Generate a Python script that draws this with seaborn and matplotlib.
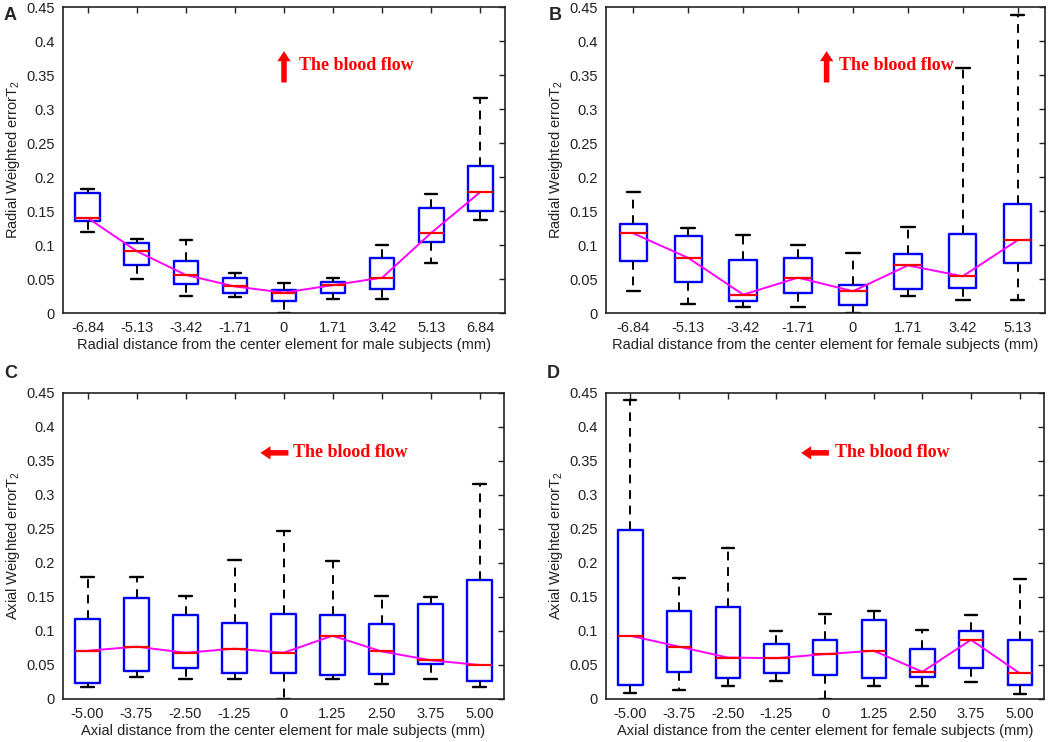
import numpy as np
import pandas as pd
import matplotlib
matplotlib.use("Agg")
import matplotlib.pyplot as plt
import seaborn as sns

# five-number summaries per position: [low whisker, q1, median, q3, high whisker]
radial_labels_male = ["-6.84", "-5.13", "-3.42", "-1.71", "0", "1.71", "3.42", "5.13", "6.84"]
radial_labels_female = ["-6.84", "-5.13", "-3.42", "-1.71", "0", "1.71", "3.42", "5.13"]
axial_labels = ["-5.00", "-3.75", "-2.50", "-1.25", "0", "1.25", "2.50", "3.75", "5.00"]

radial_male = [
    [0.119, 0.136, 0.140, 0.176, 0.182],
    [0.050, 0.070, 0.091, 0.103, 0.109],
    [0.025, 0.043, 0.056, 0.076, 0.108],
    [0.023, 0.029, 0.039, 0.051, 0.059],
    [0.000, 0.017, 0.030, 0.034, 0.044],
    [0.021, 0.029, 0.041, 0.045, 0.052],
    [0.021, 0.036, 0.052, 0.081, 0.100],
    [0.074, 0.105, 0.118, 0.154, 0.175],
    [0.137, 0.150, 0.178, 0.216, 0.316],
]
radial_female = [
    [0.032, 0.076, 0.117, 0.131, 0.178],
    [0.013, 0.045, 0.081, 0.113, 0.125],
    [0.009, 0.017, 0.027, 0.078, 0.115],
    [0.009, 0.029, 0.052, 0.081, 0.100],
    [0.000, 0.012, 0.032, 0.041, 0.088],
    [0.025, 0.035, 0.070, 0.087, 0.127],
    [0.019, 0.037, 0.054, 0.116, 0.360],
    [0.019, 0.074, 0.107, 0.160, 0.438],
]
axial_male = [
    [0.018, 0.024, 0.071, 0.118, 0.179],
    [0.033, 0.041, 0.077, 0.149, 0.179],
    [0.029, 0.045, 0.068, 0.123, 0.151],
    [0.030, 0.038, 0.074, 0.112, 0.205],
    [0.000, 0.038, 0.068, 0.125, 0.247],
    [0.030, 0.036, 0.093, 0.124, 0.203],
    [0.022, 0.037, 0.070, 0.111, 0.152],
    [0.030, 0.051, 0.057, 0.140, 0.150],
    [0.017, 0.027, 0.050, 0.175, 0.316],
]
axial_female = [
    [0.009, 0.020, 0.093, 0.248, 0.439],
    [0.013, 0.039, 0.077, 0.130, 0.178],
    [0.019, 0.031, 0.061, 0.136, 0.222],
    [0.027, 0.038, 0.060, 0.081, 0.100],
    [0.000, 0.035, 0.066, 0.087, 0.125],
    [0.019, 0.031, 0.071, 0.116, 0.130],
    [0.019, 0.033, 0.040, 0.073, 0.101],
    [0.025, 0.046, 0.087, 0.100, 0.123],
    [0.008, 0.020, 0.038, 0.087, 0.177],
]

sns.set_theme(style="white")
plt.rcParams["font.family"] = ["Liberation Sans", "DejaVu Sans"]
plt.rcParams["mathtext.fontset"] = "custom"
plt.rcParams["mathtext.rm"] = "Liberation Sans"
plt.rcParams["mathtext.it"] = "Liberation Sans"

W, H = 1059, 742
fig = plt.figure(figsize=(W / 100, H / 100), dpi=100)


def px_axes(left, top, right, bottom):
    return fig.add_axes([left / W, 1 - bottom / H, (right - left) / W, (bottom - top) / H])


panels = [
    ("A", px_axes(63, 7, 505, 313), radial_male, radial_labels_male,
     "Radial distance from the center element for male subjects (mm)", "Radial Weighted errorT$_2$",
     "up", 4.0, 4.3),
    ("B", px_axes(606, 7, 1045, 313), radial_female, radial_labels_female,
     "Radial distance from the center element for female subjects (mm)", "Radial Weighted errorT$_2$",
     "up", 3.52, 3.75),
    ("C", px_axes(63, 393, 504, 699), axial_male, axial_labels,
     "Axial distance from the center element for male subjects (mm)", "Axial Weighted errorT$_2$",
     "left", 4.1, 4.2),
    ("D", px_axes(606, 393, 1044, 699), axial_female, axial_labels,
     "Axial distance from the center element for female subjects (mm)", "Axial Weighted errorT$_2$",
     "left", 4.08, 4.2),
]

yticks = [0, 0.05, 0.1, 0.15, 0.2, 0.25, 0.3, 0.35, 0.4, 0.45]
ytick_labels = ["0", "0.05", "0.1", "0.15", "0.2", "0.25", "0.3", "0.35", "0.4", "0.45"]

for letter, ax, stats, labels, xlabel, ylabel, arrow, ax_x, tx_x in panels:
    df = pd.DataFrame(
        [(lab, v) for lab, row in zip(labels, stats) for v in row],
        columns=["pos", "err"],
    )
    sns.boxplot(
        data=df, x="pos", y="err", order=labels, ax=ax,
        whis=(0, 100), fill=False, width=0.5, color="#0000ff", saturation=1,
        linewidth=1.6,
        boxprops=dict(color="#0000ff", linewidth=1.7),
        medianprops=dict(color="red", linewidth=1.6),
        whiskerprops=dict(color="black", linestyle=(0, (4.5, 3.5)), linewidth=1.4),
        capprops=dict(color="black", linewidth=1.7),
        showfliers=False,
    )
    medians = [row[2] for row in stats]
    sns.lineplot(x=np.arange(len(labels)), y=medians, color="magenta", linewidth=1.4, ax=ax)

    ax.set_xlim(-0.5, len(labels) - 0.5)
    ax.set_ylim(0, 0.45)
    ax.set_yticks(yticks)
    ax.set_yticklabels(ytick_labels)
    ax.tick_params(direction="in", top=True, right=True, length=4, width=1,
                   labelsize=10.5, colors="#222222", pad=6)
    for s in ax.spines.values():
        s.set_visible(True)
        s.set_color("#222222")
        s.set_linewidth(1.2)
    ax.set_xlabel(xlabel, fontsize=10.5, color="#222222", labelpad=2)
    ax.set_ylabel(ylabel, fontsize=10.5, color="#222222", labelpad=3)

    # blood flow direction
    arrow_kw = dict(arrowstyle="simple,head_width=0.8,head_length=0.6,tail_width=0.33",
                    color="red", lw=0, shrinkA=0, shrinkB=0)
    if arrow == "up":
        ax.annotate("", xy=(ax_x, 0.385), xytext=(ax_x, 0.339), arrowprops=arrow_kw)
        ax.text(tx_x, 0.364, "The blood flow", color="red", fontsize=13, fontweight="bold",
                family="Liberation Serif", va="center", ha="left")
    else:
        ax.annotate("", xy=(ax_x - 0.57, 0.362), xytext=(ax_x, 0.362), arrowprops=arrow_kw)
        ax.text(tx_x, 0.362, "The blood flow", color="red", fontsize=13, fontweight="bold",
                family="Liberation Serif", va="center", ha="left")

fig.text(4 / W, 1 - 16 / H, "A", fontsize=13, fontweight="bold", va="center", ha="left")
fig.text(549 / W, 1 - 16 / H, "B", fontsize=13, fontweight="bold", va="center", ha="left")
fig.text(4 / W, 1 - 374 / H, "C", fontsize=13, fontweight="bold", va="center", ha="left")
fig.text(547 / W, 1 - 374 / H, "D", fontsize=13, fontweight="bold", va="center", ha="left")

fig.savefig("out.png", dpi=100, facecolor="white")
